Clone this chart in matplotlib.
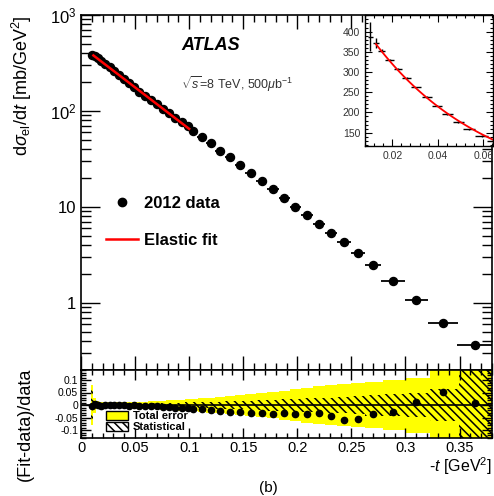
import numpy as np
import matplotlib
matplotlib.use('Agg')
import matplotlib.pyplot as plt
from matplotlib.lines import Line2D
from matplotlib.patches import Patch
from matplotlib.ticker import MultipleLocator, LogLocator, NullFormatter, FixedLocator, FuncFormatter

plt.rcParams['font.family'] = ['Liberation Sans', 'DejaVu Sans']
plt.rcParams['mathtext.fontset'] = 'custom'
plt.rcParams['mathtext.rm'] = 'Liberation Sans'
plt.rcParams['mathtext.it'] = 'Liberation Sans:italic'
plt.rcParams['mathtext.bf'] = 'Liberation Sans:bold'
plt.rcParams['hatch.linewidth'] = 1.1

# ---------------- data ----------------
t = [0.0103, 0.0128, 0.0154, 0.0188, 0.0225, 0.0264, 0.0305, 0.0352, 0.0396, 0.0442,
     0.049, 0.0539, 0.0593, 0.0645, 0.070, 0.0755, 0.081, 0.087, 0.093, 0.0985,
     0.104, 0.1117, 0.120, 0.1287, 0.138, 0.147, 0.157, 0.167, 0.1775, 0.188,
     0.198, 0.209, 0.2202, 0.2312, 0.243, 0.256, 0.270, 0.2886, 0.310, 0.3346, 0.364]
t_halfwidth = [0.0012, 0.0013, 0.0015, 0.0018, 0.0019, 0.002, 0.0022, 0.0023, 0.0023, 0.0024,
               0.0024, 0.0026, 0.0027, 0.0027, 0.0028, 0.0028, 0.0029, 0.003, 0.003, 0.0028,
               0.0032, 0.004, 0.0042, 0.0045, 0.0046, 0.0048, 0.005, 0.0052, 0.0053, 0.0052,
               0.0052, 0.0055, 0.0056, 0.0056, 0.0063, 0.0067, 0.0075, 0.0112, 0.0105, 0.0138, 0.016]
dsigma = [387.6, 371, 353, 330, 308, 285, 262, 238, 217, 196,
          177, 158, 142, 130, 117, 106, 95, 85, 76, 69,
          62, 54, 46, 38.6, 33, 27.4, 22.8, 18.8, 15.4, 12.5,
          10.07, 8.26, 6.65, 5.4, 4.29, 3.34, 2.49, 1.71, 1.07, 0.624, 0.365]
dsigma_err = [35, 12, 4, 3, 3, 3, 2, 2, 2, 2,
              2, 2, 2, 2, 2, 1, 1, 1, 1, 1,
              1, 1, 1, 1, 1, 1, 1, 1, 1, 1,
              0.5, 0.5, 0.3, 0.3, 0.3, 0.2, 0.2, 0.15, 0.1, 0.07, 0.05]
residual = [-0.005, 0.003, 0.0, -0.002, 0.001, 0.0, -0.001, 0.0, -0.001, -0.002,
            -0.001, -0.002, -0.002, -0.003, -0.004, -0.006, -0.008, -0.010, -0.012, -0.013,
            -0.014, -0.016, -0.018, -0.022, -0.026, -0.026, -0.030, -0.033, -0.035, -0.033,
            -0.036, -0.036, -0.033, -0.043, -0.059, -0.055, -0.036, -0.029, 0.012, 0.051, 0.007]
total_err = [0.08, 0.03, 0.015, 0.012, 0.011, 0.011, 0.011, 0.011, 0.012, 0.012,
             0.013, 0.013, 0.014, 0.015, 0.016, 0.018, 0.019, 0.021, 0.022, 0.024,
             0.025, 0.028, 0.030, 0.033, 0.036, 0.040, 0.043, 0.047, 0.052, 0.058,
             0.065, 0.070, 0.075, 0.080, 0.085, 0.088, 0.092, 0.100, 0.110, 0.30, 0.30]
stat_err = [0.07, 0.02, 0.010, 0.006, 0.006, 0.006, 0.006, 0.006, 0.006, 0.007,
            0.007, 0.007, 0.007, 0.008, 0.008, 0.009, 0.009, 0.010, 0.010, 0.011,
            0.011, 0.012, 0.013, 0.014, 0.015, 0.016, 0.018, 0.020, 0.022, 0.024,
            0.025, 0.027, 0.028, 0.030, 0.033, 0.037, 0.042, 0.045, 0.048, 0.065, 0.30]

t = np.array(t); th = np.array(t_halfwidth); y = np.array(dsigma)
ye = np.array(dsigma_err); res = np.array(residual)
tot = np.array(total_err); sta = np.array(stat_err)

# fit (exponential) to data in the fit range
fitmask = (t > 0.012) & (t < 0.101)
p = np.polyfit(t[fitmask], np.log(y[fitmask]), 1)
fit = lambda x: np.exp(np.polyval(p, x))

W, H = 494, 496
fig = plt.figure(figsize=(W / 100, H / 100), dpi=100)

def ax_px(l, tp, r, b):
    return fig.add_axes([l / W, 1 - b / H, (r - l) / W, (b - tp) / H])

XL, XR = 81, 492
ax = ax_px(XL, 15, XR, 370)
axr = ax_px(XL, 370, XR, 438)
axi = ax_px(365, 15, 493, 146)

# ---------------- main panel ----------------
ax.set_yscale('log')
ax.set_xlim(0, 0.38)
ax.set_ylim(0.2, 1000)
ax.errorbar(t, y, xerr=th, fmt='o', color='black', ms=5.8, elinewidth=1.3, capsize=0, zorder=3)
tf = np.linspace(0.0115, 0.1, 100)
ax.plot(tf, fit(tf), color='red', lw=1.8, zorder=4)

ax.xaxis.set_major_locator(MultipleLocator(0.05))
ax.xaxis.set_minor_locator(MultipleLocator(0.01))
ax.xaxis.set_major_formatter(NullFormatter())
ax.yaxis.set_major_locator(LogLocator(base=10, numticks=10))
ax.yaxis.set_minor_locator(LogLocator(base=10, subs=np.arange(2, 10), numticks=20))
ax.yaxis.set_minor_formatter(NullFormatter())
ax.yaxis.set_major_formatter(FuncFormatter(
    lambda v, pos: {1: '1', 10: '10'}.get(int(round(v)), r'$10^{%d}$' % int(round(np.log10(v)))) if v >= 1 else ''))
ax.tick_params(axis='both', which='both', direction='in', top=True, right=True, labelsize=12, width=1.0)
ax.tick_params(axis='y', which='major', length=14)
ax.tick_params(axis='y', which='minor', length=7)
ax.tick_params(axis='x', which='major', length=10)
ax.tick_params(axis='x', which='minor', length=5)
for s in ax.spines.values():
    s.set_linewidth(1.2)

ax.text(181 / W, 1 - 45 / H, 'ATLAS', transform=fig.transFigure, fontsize=13,
        fontweight='bold', fontstyle='italic', va='center', ha='left')
ax.text(181 / W, 1 - 84 / H, r'$\sqrt{s}$=8 TeV, 500$\mu$b$^{-1}$', transform=fig.transFigure,
        fontsize=9, color='#333333', va='center', ha='left')

handles = [Line2D([], [], color='black', marker='o', ls='none', ms=6),
           Line2D([], [], color='red', lw=1.8)]
ax.legend(handles, ['2012 data', 'Elastic fit'], loc='upper left',
          bbox_to_anchor=(106 / W, 1 - 196 / H), bbox_transform=fig.transFigure,
          frameon=False, prop={'weight': 'bold', 'size': 12}, labelspacing=1.3,
          handlelength=1.9, handletextpad=0.4, borderpad=0, borderaxespad=0)

fig.text(22 / W, 1 - 15 / H, r'd$\sigma_{\mathrm{el}}$/d$t$ [mb/GeV$^{2}$]', rotation=90,
         ha='center', va='top', fontsize=13)

# ---------------- inset ----------------
im = t < 0.065
axi.errorbar(t[im], y[im], xerr=th[im], yerr=ye[im], fmt='none', ecolor='black', elinewidth=1.0, capsize=0)
ti = np.linspace(0.0128, 0.064, 100)
axi.plot(ti, fit(ti), color='red', lw=1.3)
axi.set_xlim(0.008, 0.0643)
axi.set_ylim(117, 441)
axi.xaxis.set_major_locator(MultipleLocator(0.02))
axi.xaxis.set_minor_locator(MultipleLocator(0.004))
axi.yaxis.set_major_locator(MultipleLocator(50))
axi.yaxis.set_minor_locator(MultipleLocator(10))
axi.xaxis.set_major_formatter(FuncFormatter(lambda v, pos: '%g' % round(v, 3)))
axi.tick_params(axis='both', which='both', direction='in', top=True, right=True, labelsize=7.5,
                labelcolor='#333333', width=0.8)
axi.tick_params(which='major', length=5)
axi.tick_params(which='minor', length=2.5)
for s in axi.spines.values():
    s.set_linewidth(1.0)

# ---------------- ratio panel ----------------
edges = np.concatenate([[t[0] - th[0]], (t[:-1] + t[1:]) / 2, [0.38]])
axr.stairs(tot, edges, baseline=-tot, fill=True, color='#ffff00', lw=0, zorder=1)
axr.stairs(sta, edges, baseline=-sta, fill=True, facecolor='none', edgecolor='black',
           hatch='\\\\\\\\', lw=0, zorder=2)
axr.axhline(0, color='black', lw=1.2, zorder=3)
axr.plot(t, res, 'o', color='black', ms=4.5, zorder=4)
axr.set_xlim(0, 0.38)
axr.set_ylim(-0.132, 0.14)
axr.xaxis.set_major_locator(MultipleLocator(0.05))
axr.xaxis.set_minor_locator(MultipleLocator(0.01))
axr.yaxis.set_major_locator(FixedLocator([-0.1, -0.05, 0, 0.05, 0.1]))
axr.yaxis.set_minor_locator(MultipleLocator(0.01))
axr.xaxis.set_major_formatter(FuncFormatter(lambda v, pos: '%g' % round(v, 3)))
axr.yaxis.set_major_formatter(FuncFormatter(lambda v, pos: '%g' % round(v, 3)))
axr.tick_params(axis='both', which='both', direction='in', top=True, right=True, width=1.0)
axr.tick_params(axis='x', labelsize=10.5, which='major', length=7, pad=2.5)
axr.tick_params(axis='x', which='minor', length=3.5)
axr.tick_params(axis='y', labelsize=7.5, which='major', length=7, pad=2)
axr.tick_params(axis='y', which='minor', length=3.5)
for s in axr.spines.values():
    s.set_linewidth(1.2)

leg_h = [Patch(facecolor='#ffff00', edgecolor='black', lw=1.0),
         Patch(facecolor='white', edgecolor='black', hatch='\\\\\\\\', lw=1.0)]
axr.legend(leg_h, ['Total error', 'Statistical'], loc='upper left',
           bbox_to_anchor=(106 / W, 1 - 411 / H), bbox_transform=fig.transFigure,
           frameon=False, prop={'weight': 'bold', 'size': 8}, labelspacing=0.05,
           handlelength=2.0, handleheight=0.9, handletextpad=0.4, borderpad=0, borderaxespad=0)

fig.text(25 / W, 1 - 368 / H, '(Fit-data)/data', rotation=90, ha='center', va='top', fontsize=13)
fig.text(492 / W, 1 - 466 / H, r'-$t$ [GeV$^{2}$]', ha='right', va='center', fontsize=11.5)
fig.text(268 / W, 1 - 488 / H, '(b)', ha='center', va='center', fontsize=11)

fig.savefig('out.png', dpi=100)
